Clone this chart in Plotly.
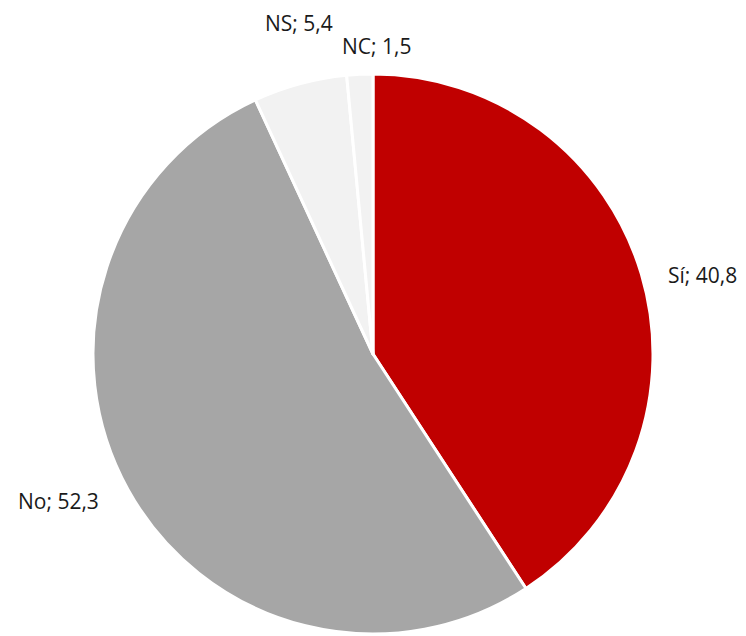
import math
import plotly.graph_objects as go

categories = ["Sí", "No", "NS", "NC"]
values = [40.8, 52.3, 5.4, 1.5]
colors = ["#C00000", "#A6A6A6", "#F2F2F2", "#F2F2F2"]

labels_text = [f"{c}; {str(v).replace('.', ',')}" for c, v in zip(categories, values)]

W, H = 746, 636
cx, cy, R = 373, 354, 280
# radial distance of each label centre, as a multiple of the radius, plus small angular nudge (deg)
label_dist = [1.21, 1.24, 1.21, 1.10]
label_nudge = [3.0, 4.0, 2.5, 3.4]

fig = go.Figure(go.Pie(
    labels=categories,
    values=values,
    textinfo="none",
    sort=False,
    direction="clockwise",
    rotation=0,
    marker=dict(colors=colors, line=dict(color="white", width=3)),
    showlegend=False,
    hoverinfo="label+value",
    domain=dict(x=[(cx - R) / W, (cx + R) / W], y=[(H - cy - R) / H, (H - cy + R) / H]),
))

total = sum(values)
cum = 0.0
for txt, v, k, nd in zip(labels_text, values, label_dist, label_nudge):
    mid = (cum + v / 2) / total * 360 + nd
    cum += v
    a = math.radians(mid)
    px = cx + k * R * math.sin(a)
    py = cy - k * R * math.cos(a)
    fig.add_annotation(
        x=px / W, y=1 - py / H, xref="paper", yref="paper",
        text=txt, showarrow=False, xanchor="center", yanchor="middle",
        font=dict(family="Open Sans", size=21, color="#1a1a1a"),
    )

fig.update_layout(
    width=W, height=H,
    margin=dict(l=0, r=0, t=0, b=0),
    paper_bgcolor="white",
    plot_bgcolor="white",
)
fig.write_html("out.html", config={"displayModeBar": False},
               post_script="document.body.style.margin='0';")
